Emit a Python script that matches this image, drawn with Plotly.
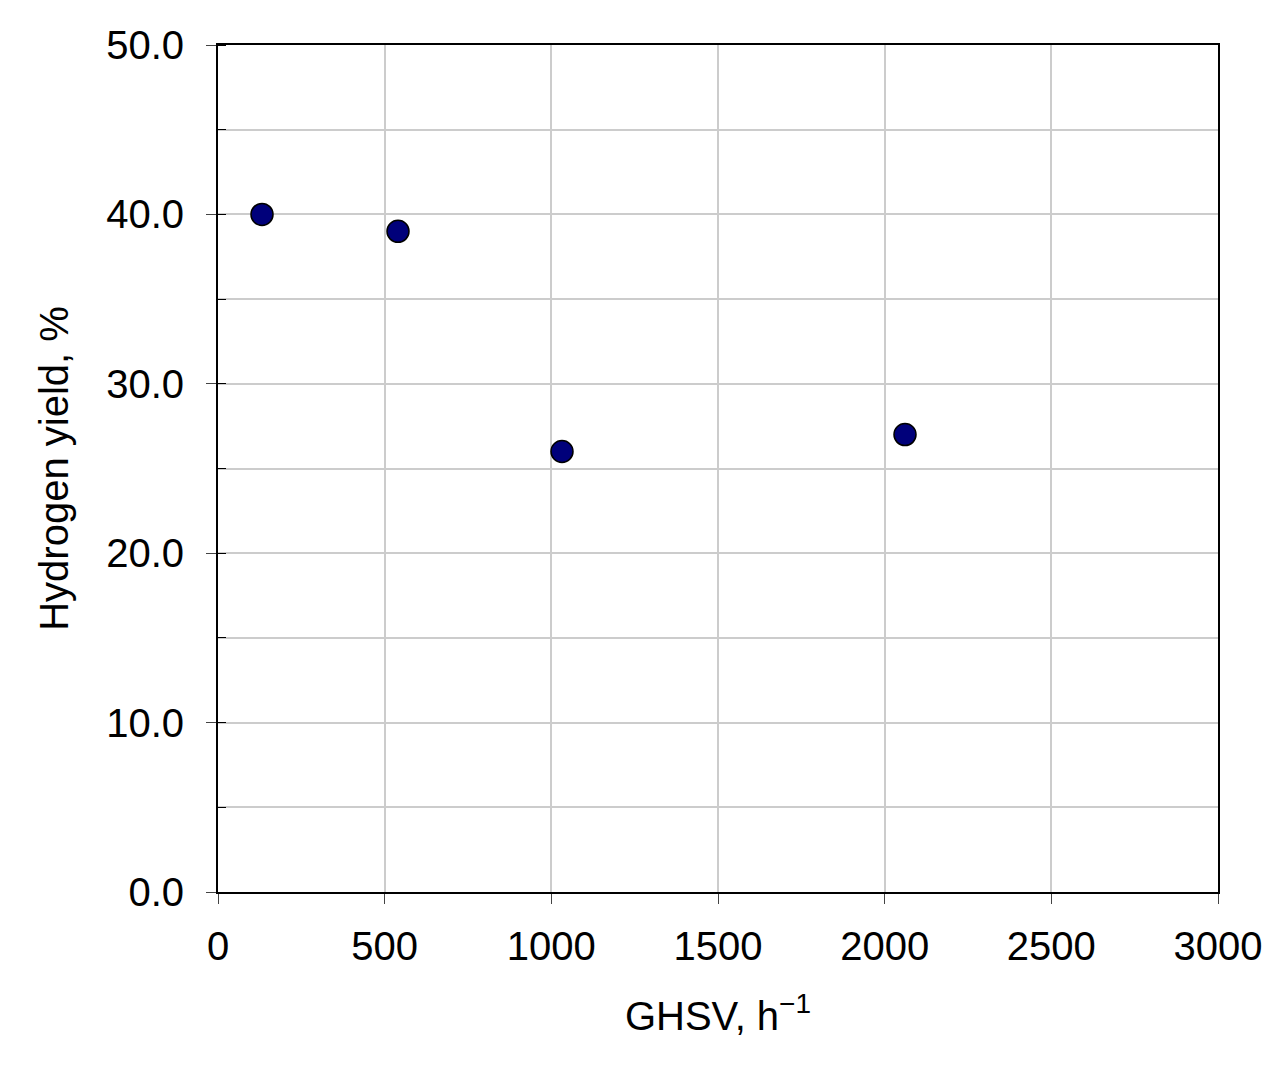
import plotly.graph_objects as go

ghsv = [132, 540, 1032, 2061]
h2_yield = [40.0, 39.0, 26.0, 27.0]
x_ticks = [0, 500, 1000, 1500, 2000, 2500, 3000]
y_ticks = [0, 10, 20, 30, 40, 50]

fig = go.Figure(go.Scatter(x=ghsv, y=h2_yield, mode="markers",
    marker=dict(size=22, color="#00007a", line=dict(color="black", width=1.5))))

fig.update_layout(width=1288, height=1084, plot_bgcolor="white", paper_bgcolor="white",
    margin=dict(l=210, r=78, t=37, b=200), showlegend=False,
    font=dict(family="Liberation Sans, Arial", size=40, color="black"))
fig.update_xaxes(range=[0, 3000], tickvals=x_ticks, ticks="outside", ticklen=10,
    showgrid=True, gridcolor="#cccccc", gridwidth=1.5, showline=True, linecolor="black",
    linewidth=2, mirror=True, zeroline=False, tickfont=dict(size=40), ticklabelstandoff=8,
    title=dict(text="GHSV, h<sup>−1</sup>", font=dict(size=40), standoff=35))
fig.update_yaxes(range=[0, 50], tickvals=y_ticks, ticktext=[f"{v:.1f}" for v in y_ticks],
    ticks="outside", ticklen=10, showgrid=True, gridcolor="#cccccc", gridwidth=1.5,
    showline=True, linecolor="black", linewidth=2, mirror=True, zeroline=False,
    minor=dict(dtick=5, showgrid=True, gridcolor="#cccccc", ticks="inside", ticklen=8, tickcolor="black"),
    tickfont=dict(size=40), ticklabelstandoff=14,
    title=dict(text="Hydrogen yield, %", font=dict(size=40), standoff=25))
fig.write_html("out.html")
